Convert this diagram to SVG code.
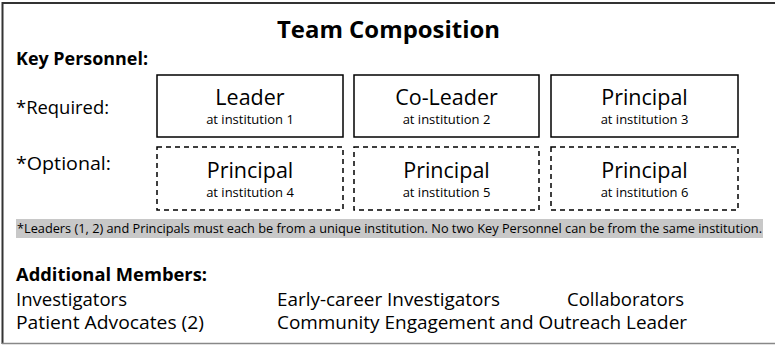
<svg xmlns="http://www.w3.org/2000/svg" width="775" height="345" viewBox="0 0 775 345">
<style>
text{font-family:"Open Sans","Liberation Sans",sans-serif;fill:#000}
.b{font-weight:bold}
.lbl{font-size:18.5px}
.nt{font-size:21.5px;text-anchor:middle}
.ns{font-size:13px;text-anchor:middle}
.box{fill:#fff;stroke:#000;stroke-width:1.5}
.opt{stroke-dasharray:5,4}
</style>
<rect width="775" height="345" fill="#fff"/>
<g id="frame">
<line x1="2.5" y1="3" x2="775" y2="3" stroke="#333" stroke-width="2"/>
<line x1="2.5" y1="2" x2="2.5" y2="344" stroke="#333" stroke-width="2"/>
<line x1="2" y1="343.5" x2="775" y2="343.5" stroke="#888" stroke-width="1.5"/>
</g>
<text class="b" x="388.5" y="38" font-size="24" text-anchor="middle" textLength="223" lengthAdjust="spacingAndGlyphs">Team Composition</text>
<text class="b lbl" x="16" y="65" textLength="132" lengthAdjust="spacingAndGlyphs">Key Personnel:</text>
<text class="lbl" x="16" y="114" textLength="93" lengthAdjust="spacingAndGlyphs">*Required:</text>
<text class="lbl" x="16" y="170" textLength="95" lengthAdjust="spacingAndGlyphs">*Optional:</text>
<g id="leader"><rect class="box" x="157" y="75" width="186" height="62"/><text class="nt" x="250" y="105">Leader</text><text class="ns" x="250" y="124">at institution 1</text></g>
<g id="coleader"><rect class="box" x="354" y="75" width="185" height="62"/><text class="nt" x="446.5" y="105">Co-Leader</text><text class="ns" x="446.5" y="124">at institution 2</text></g>
<g id="principal3"><rect class="box" x="551" y="75" width="187" height="62"/><text class="nt" x="644.5" y="105">Principal</text><text class="ns" x="644.5" y="124">at institution 3</text></g>
<g id="principal4"><rect class="box opt" x="157" y="147" width="186" height="63"/><text class="nt" x="250" y="178">Principal</text><text class="ns" x="250" y="197">at institution 4</text></g>
<g id="principal5"><rect class="box opt" x="354" y="147" width="185" height="63"/><text class="nt" x="446.5" y="178">Principal</text><text class="ns" x="446.5" y="197">at institution 5</text></g>
<g id="principal6"><rect class="box opt" x="551" y="147" width="187" height="63"/><text class="nt" x="644.5" y="178">Principal</text><text class="ns" x="644.5" y="197">at institution 6</text></g>
<g id="connectors"></g>
<rect x="16" y="219" width="747" height="19" fill="#c8c8c8"/>
<text x="17" y="233" font-size="12.3" textLength="745" lengthAdjust="spacingAndGlyphs">*Leaders (1, 2) and Principals must each be from a unique institution. No two Key Personnel can be from the same institution.</text>
<text class="b lbl" x="16" y="281" textLength="191" lengthAdjust="spacingAndGlyphs">Additional Members:</text>
<text class="lbl" x="16" y="306" textLength="111" lengthAdjust="spacingAndGlyphs">Investigators</text>
<text class="lbl" x="16" y="329" textLength="188" lengthAdjust="spacingAndGlyphs">Patient Advocates (2)</text>
<text class="lbl" x="277" y="306" textLength="223" lengthAdjust="spacingAndGlyphs">Early-career Investigators</text>
<text class="lbl" x="567" y="306" textLength="117" lengthAdjust="spacingAndGlyphs">Collaborators</text>
<text class="lbl" x="277" y="329" textLength="410" lengthAdjust="spacingAndGlyphs">Community Engagement and Outreach Leader</text>
</svg>
